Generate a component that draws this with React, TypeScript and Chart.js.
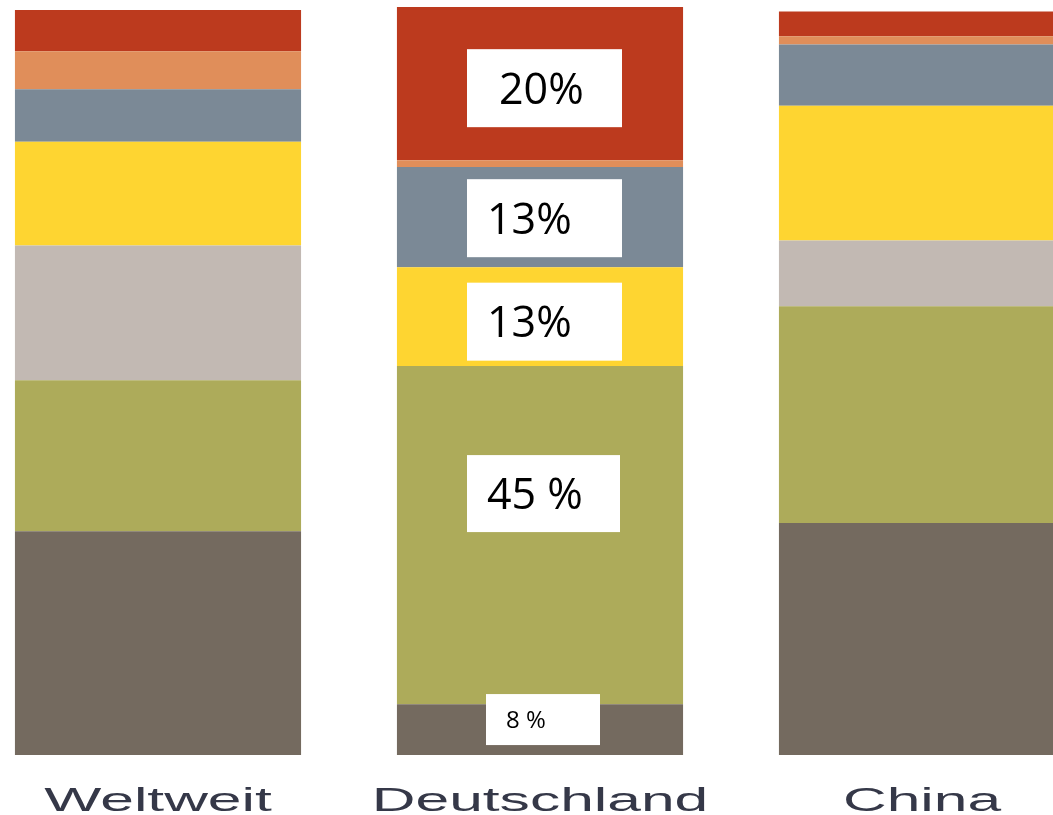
import React, { useEffect, useRef } from 'react';
import { Chart, registerables } from 'chart.js';

Chart.register(...registerables);

// Categories (x axis)
const categories = ['Weltweit', 'Deutschland', 'China'];

// Series values in percent, bottom segment first
const seriesNames = ['Anteil 1', 'Anteil 2', 'Anteil 3', 'Anteil 4', 'Anteil 5', 'Anteil 6', 'Anteil 7'];
const darkValues = [29.9, 6.8, 31.0];
const oliveValues = [20.2, 45.2, 29.0];
const beigeValues = [18.0, 0, 8.8];
const yellowValues = [13.9, 13.2, 18.0];
const blueValues = [7.0, 13.4, 8.2];
const orangeValues = [5.1, 0.9, 1.1];
const redValues = [5.5, 20.5, 3.3];

// Value labels shown on the Deutschland bar (per segment, bottom first)
const deutschlandLabels = ['8 %', '45 %', '', '13%', '13%', '', '20%'];

const seriesValues = [darkValues, oliveValues, beigeValues, yellowValues, blueValues, orangeValues, redValues];
const seriesColors = ['#746a5f', '#adab5a', '#c2b9b3', '#fed531', '#7b8996', '#e08e5a', '#bc3a1e'];

const STRETCH = 1.78;

// Label box styles (keyed by dataset index)
const boxStyles: Record<number, { w: number; h: number; dx: number; dy: number; textDx: number; size: number }> = {
  6: { w: 155, h: 78, dx: 4.5, dy: 4.5, textDx: 32, size: 43 },
  4: { w: 155, h: 78, dx: 4.5, dy: 1, textDx: 20, size: 43 },
  3: { w: 155, h: 78, dx: 4.5, dy: 5, textDx: 20, size: 43 },
  1: { w: 153, h: 77, dx: 3.5, dy: -41.5, textDx: 20, size: 43 },
  0: { w: 114, h: 51, dx: 3, dy: -10, textDx: 20, size: 24 },
};

const stretchTicksPlugin = {
  id: 'stretchTicks',
  beforeDraw(chart: any) {
    const ctx = chart.ctx;
    const orig = CanvasRenderingContext2D.prototype.rotate;
    ctx.rotate = function (a: number) {
      orig.call(this, a);
      this.scale(STRETCH, 1);
    };
  },
  beforeDatasetsDraw(chart: any) {
    delete chart.ctx.rotate;
  },
};

const labelBoxPlugin = {
  id: 'labelBoxes',
  afterDatasetsDraw(chart: any) {
    const ctx = chart.ctx;
    const catIndex = categories.indexOf('Deutschland');
    deutschlandLabels.forEach((text, dsIndex) => {
      if (!text) return;
      const style = boxStyles[dsIndex];
      if (!style) return;
      const el = chart.getDatasetMeta(dsIndex).data[catIndex];
      if (!el) return;
      const { x, y, base } = el.getProps(['x', 'y', 'base'], true);
      const cy = (y + base) / 2 + style.dy;
      const cx = x + style.dx;
      const left = cx - style.w / 2;
      const top = cy - style.h / 2;
      ctx.save();
      ctx.fillStyle = '#ffffff';
      ctx.fillRect(left, top, style.w, style.h);
      ctx.fillStyle = '#000000';
      ctx.font = `400 ${style.size}px "Open Sans", "Noto Sans", sans-serif`;
      ctx.textAlign = 'left';
      ctx.textBaseline = 'alphabetic';
      ctx.fillText(text, left + style.textDx, cy + style.size * 0.357);
      ctx.restore();
    });
  },
};

export default function App() {
  const canvasRef = useRef<HTMLCanvasElement | null>(null);

  useEffect(() => {
    if (!canvasRef.current) return;
    const chart = new Chart(canvasRef.current, {
      type: 'bar',
      data: {
        labels: categories,
        datasets: seriesValues.map((vals, i) => ({
          label: seriesNames[i],
          data: vals,
          backgroundColor: seriesColors[i],
          borderWidth: 0,
          barPercentage: 0.749,
          categoryPercentage: 1,
          clip: false as any,
        })),
      },
      options: {
        responsive: false,
        animation: false,
        layout: { padding: { top: 7, left: 158, right: 131, bottom: 0 } },
        plugins: {
          legend: { display: false },
          tooltip: { enabled: false },
        },
        scales: {
          x: {
            stacked: true,
            offset: false,
            grid: { display: false, drawTicks: false },
            border: { display: false },
            ticks: {
              color: '#353848',
              padding: 30,
              maxRotation: 0,
              autoSkip: false,
              font: { family: '"Liberation Sans", Arial, sans-serif', size: 34, lineHeight: 1 },
            },
          },
          y: {
            stacked: true,
            display: false,
            min: 0,
            max: 100,
          },
        },
      },
      plugins: [stretchTicksPlugin, labelBoxPlugin],
    });
    return () => chart.destroy();
  }, []);

  return (
    <div style={{ position: 'fixed', left: 0, top: 0, width: 1053, height: 815, background: '#fff', overflow: 'hidden' }}>
      <canvas ref={canvasRef} width={1053} height={849} style={{ display: 'block' }} />
    </div>
  );
}
